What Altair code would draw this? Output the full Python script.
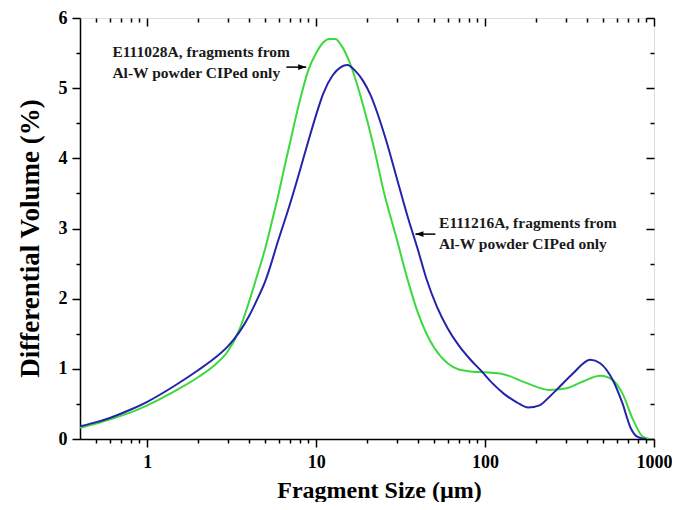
import altair as alt
import pandas as pd

# ---- data ----
green_size = [0.4, 0.5, 0.6, 0.8, 1.0, 1.5, 2.0, 2.5, 3.0, 3.5, 4.0, 4.5, 5.0, 5.5, 6.0, 6.5,
              7.0, 8.0, 9.0, 10.0, 11.0, 12.0, 13.0, 14.0, 16.0, 18.0, 20.0, 22.0, 25.0, 30.0,
              35.0, 40.0, 45.0, 50.0, 60.0, 70.0, 85.0, 100.0, 130.0, 175.0, 240.0, 300.0,
              380.0, 480.0, 570.0, 650.0, 750.0, 860.0, 950.0]
green_vol = [0.16, 0.22, 0.28, 0.38, 0.48, 0.70, 0.88, 1.05, 1.25, 1.55, 1.95, 2.35, 2.72, 3.12,
             3.50, 3.88, 4.22, 4.82, 5.26, 5.50, 5.65, 5.70, 5.70, 5.62, 5.33, 4.95, 4.55, 4.15,
             3.55, 2.85, 2.25, 1.80, 1.50, 1.30, 1.08, 0.99, 0.96, 0.95, 0.92, 0.80, 0.70, 0.72,
             0.82, 0.90, 0.84, 0.65, 0.28, 0.03, 0.0]

blue_size = [0.4, 0.5, 0.6, 0.8, 1.0, 1.5, 2.0, 2.5, 3.0, 3.5, 4.0, 4.5, 5.0, 6.0, 7.0, 8.0,
             9.0, 10.0, 11.0, 12.5, 14.0, 15.3, 17.0, 19.0, 21.0, 23.0, 26.0, 30.0, 35.0, 40.0,
             45.0, 52.0, 60.0, 70.0, 82.0, 95.0, 110.0, 130.0, 155.0, 180.0, 210.0, 240.0,
             265.0, 330.0, 420.0, 480.0, 570.0, 650.0, 730.0, 800.0, 900.0]
blue_vol = [0.18, 0.24, 0.30, 0.42, 0.53, 0.78, 0.98, 1.15, 1.32, 1.52, 1.75, 2.00, 2.25, 2.85,
            3.35, 3.82, 4.25, 4.62, 4.92, 5.18, 5.30, 5.33, 5.25, 5.10, 4.90, 4.65, 4.25, 3.72,
            3.15, 2.70, 2.28, 1.88, 1.58, 1.33, 1.13, 0.97, 0.80, 0.64, 0.52, 0.45, 0.48, 0.60,
            0.70, 0.93, 1.13, 1.08, 0.84, 0.51, 0.15, 0.03, 0.0]

series_names = ["E111028A", "E111216A"]
series_colors = ["#3cd83c", "#2424aa"]

x_major = [1, 10, 100, 1000]
x_minor = [0.5, 0.6, 0.7, 0.8, 0.9, 2, 3, 4, 5, 6, 7, 8, 9,
           20, 30, 40, 50, 60, 70, 80, 90, 200, 300, 400, 500, 600, 700, 800, 900]
y_ticks = [0, 0.5, 1, 1.5, 2, 2.5, 3, 3.5, 4, 4.5, 5, 5.5, 6]

ann_text = ["E111028A, fragments from", "Al-W powder CIPed only",
            "E111216A, fragments from", "Al-W powder CIPed only"]
ann_x = [0.622, 0.622, 53.4, 53.4]
ann_y = [5.51, 5.21, 3.08, 2.78]

arrow_id = ["a1", "a1", "a2", "a2"]
arrow_x = [6.66, 8.73, 50.8, 38.7]
arrow_y = [5.30, 5.30, 2.92, 2.92]
head_x = [8.73, 38.7]
head_y = [5.30, 2.92]
head_dir = ["right", "left"]

# ---- tables ----
df = pd.concat([
    pd.DataFrame({"size": green_size, "vol": green_vol, "series": series_names[0]}),
    pd.DataFrame({"size": blue_size, "vol": blue_vol, "series": series_names[1]}),
])
ann = pd.DataFrame({"x": ann_x, "y": ann_y, "text": ann_text})
arrows = pd.DataFrame({"id": arrow_id, "x": arrow_x, "y": arrow_y})
heads = pd.DataFrame({"x": head_x, "y": head_y, "dir": head_dir})

W, H = 574, 421
FONT = "Liberation Serif"
all_x = sorted(x_major + x_minor)
xscale = alt.Scale(type="log", domain=[0.4, 1000], nice=False)
yscale = alt.Scale(domain=[0, 6], nice=False, zero=False)

x_major_test = "datum.value == 1 || datum.value == 10 || datum.value == 100 || datum.value == 1000"
y_major_test = "datum.value % 1 == 0"

common_axis = dict(grid=False, domainColor="black", tickColor="black", domainWidth=1.5,
                   tickWidth=1.5, labelFont=FONT, labelFontWeight="bold", labelFontSize=18,
                   labelColor="black", titleFont=FONT, titleFontWeight="bold", titleColor="black",
                   labelOverlap=False)

x_axis_bottom = alt.Axis(values=all_x,
                         tickSize={"condition": {"test": x_major_test, "value": 8}, "value": 4},
                         labelExpr="(" + x_major_test + ") ? format(datum.value, 'd') : ''",
                         labelFlush=False, labelPadding=6,
                         title="Fragment Size (µm)", titleFontSize=24, titlePadding=7,
                         titleX=299,
                         **common_axis)
y_axis_left = alt.Axis(values=y_ticks,
                       tickSize={"condition": {"test": y_major_test, "value": 8}, "value": 4},
                       labelExpr="(" + y_major_test + ") ? format(datum.value, 'd') : ''",
                       labelFlush=False, labelPadding=5,
                       title="Differential Volume (%)", titleFontSize=27, titlePadding=14,
                       titleY=220,
                       **common_axis)
x_axis_top = alt.Axis(orient="bottom", offset=-H, values=all_x, labels=False, domain=False,
                      title=None, grid=False, tickColor="black", tickWidth=1.5,
                      tickSize={"condition": {"test": x_major_test, "value": 8}, "value": 4})
y_axis_right = alt.Axis(orient="left", offset=-W, values=y_ticks, labels=False, domain=False,
                        title=None, grid=False, tickColor="black", tickWidth=1.5,
                        tickSize={"condition": {"test": y_major_test, "value": 8}, "value": 4})

color = alt.Color("series:N", scale=alt.Scale(domain=series_names, range=series_colors), legend=None)

lines = alt.Chart(df).mark_line(strokeWidth=2, interpolate="monotone", clip=True).encode(
    x=alt.X("size:Q", scale=xscale, axis=x_axis_bottom),
    y=alt.Y("vol:Q", scale=yscale, axis=y_axis_left),
    color=color,
    order=alt.Order("size:Q"),
)

frame_axes = alt.Chart(df).mark_line(opacity=0).encode(
    x=alt.X("size:Q", scale=xscale, axis=x_axis_top),
    y=alt.Y("vol:Q", scale=yscale, axis=y_axis_right),
    detail="series:N",
)

texts = alt.Chart(ann).mark_text(align="left", baseline="middle", font=FONT, fontWeight="bold",
                                 fontSize=15.5, color="#1a1a1a").encode(
    x=alt.X("x:Q", scale=xscale, axis=None),
    y=alt.Y("y:Q", scale=yscale, axis=None),
    text="text:N",
)

arrow_lines = alt.Chart(arrows).mark_line(color="black", strokeWidth=1.5).encode(
    x=alt.X("x:Q", scale=xscale, axis=None),
    y=alt.Y("y:Q", scale=yscale, axis=None),
    detail="id:N",
)

arrow_heads = alt.Chart(heads).mark_point(filled=True, color="black", opacity=1, size=64).encode(
    x=alt.X("x:Q", scale=xscale, axis=None),
    y=alt.Y("y:Q", scale=yscale, axis=None),
    shape=alt.Shape("dir:N", scale=alt.Scale(domain=["right", "left"],
                                             range=["M0,0L-2,-0.7L-2,0.7Z", "M0,0L2,-0.7L2,0.7Z"]),
                    legend=None),
)

chart = alt.layer(lines, frame_axes, texts, arrow_lines, arrow_heads).resolve_axis(
    x="independent", y="independent"
).properties(
    width=W, height=H,
    autosize=alt.AutoSizeParams(type="none"),
    padding={"left": 72, "top": 10, "right": 18, "bottom": 63},
).configure_view(stroke="black", strokeWidth=1.5).configure(background="white")

chart.save("out.html", embed_options={"renderer": "svg", "actions": False})
